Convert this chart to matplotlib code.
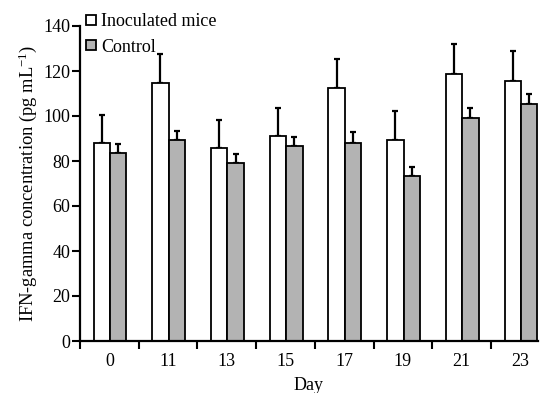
import matplotlib
matplotlib.use("Agg")
import matplotlib.pyplot as plt
import numpy as np
from matplotlib.lines import Line2D

days = ["0", "11", "13", "15", "17", "19", "21", "23"]
inoculated = [88, 114.8, 85.8, 91.1, 112.6, 89.5, 118.8, 115.7]
inoculated_err = [12.4, 12.8, 12.6, 12.6, 12.6, 12.9, 13.0, 13.0]
control = [83.4, 89.5, 79.1, 86.5, 88.0, 73.2, 99.3, 105.2]
control_err = [4.1, 4.0, 4.0, 4.2, 4.7, 4.1, 4.1, 4.4]
yticks = [0, 20, 40, 60, 80, 100, 120, 140]

plt.rcParams['font.family'] = ['Liberation Serif', 'DejaVu Serif']
plt.rcParams['mathtext.fontset'] = 'custom'
plt.rcParams['mathtext.rm'] = 'Liberation Serif'
plt.rcParams['mathtext.it'] = 'Liberation Serif:italic'
plt.rcParams['mathtext.default'] = 'rm'

W, H = 541, 393
fig = plt.figure(figsize=(W / 100, H / 100), dpi=100)
ax = fig.add_axes([80 / W, (H - 341) / H, (538 - 80) / W, (341 - 26) / H])

x = np.arange(len(days))
bw = 0.28
gray = '#b3b3b3'
ax.bar(x - 0.13, inoculated, bw, color='white', edgecolor='black', linewidth=1.3, zorder=2)
ax.bar(x + 0.15, control, bw, color=gray, edgecolor='black', linewidth=1.3, zorder=2)
ax.errorbar(x - 0.13, inoculated, yerr=[np.zeros(len(x)), inoculated_err], fmt='none',
            ecolor='black', elinewidth=1.6, capsize=2.4, capthick=1.6, zorder=1)
ax.errorbar(x + 0.15, control, yerr=[np.zeros(len(x)), control_err], fmt='none',
            ecolor='black', elinewidth=1.6, capsize=2.4, capthick=1.6, zorder=1)

ax.set_xlim(-0.5, 7.3)
ax.set_ylim(0, 140)
ax.set_yticks(yticks)
ax.set_yticklabels([str(t) for t in yticks], fontsize=13)
ax.set_xticks(np.arange(len(days)) - 0.5)
ax.set_xticklabels([])
ax.set_xticks(x, minor=True)
ax.set_xticklabels(days, minor=True, fontsize=13)
ax.tick_params(axis='x', which='minor', length=0, pad=9)
ax.tick_params(axis='x', which='major', length=6, width=1.5, direction='out')
ax.tick_params(axis='y', length=6, width=1.5, direction='out', pad=1)
for s in ['top', 'right']:
    ax.spines[s].set_visible(False)
for s in ['left', 'bottom']:
    ax.spines[s].set_linewidth(1.6)

ax.set_ylabel('IFN-gamma concentration (pg mL$^{-1}$)', fontsize=13.3, labelpad=3)
ax.set_xlabel('Day', fontsize=13, labelpad=5)

handles = [Line2D([], [], marker='s', linestyle='none', markersize=6.5, markerfacecolor='white',
                  markeredgecolor='black', markeredgewidth=1.3),
           Line2D([], [], marker='s', linestyle='none', markersize=6.5, markerfacecolor=gray,
                  markeredgecolor='black', markeredgewidth=1.3)]
leg = ax.legend(handles, ['Inoculated mice', 'Control'], loc='upper left',
                bbox_to_anchor=(0.012, 1.04), frameon=False, fontsize=13,
                handlelength=0.6, handletextpad=0.25, labelspacing=0.45, borderaxespad=0,
                borderpad=0)

fig.savefig('out.png', dpi=100)
